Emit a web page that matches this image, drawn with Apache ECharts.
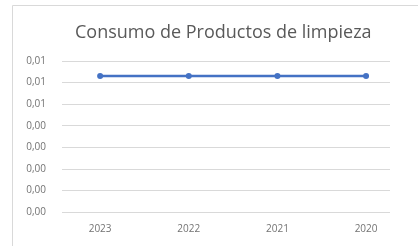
<!DOCTYPE html>
<html>
<head>
<meta charset="utf-8">
<script src="https://cdn.jsdelivr.net/npm/echarts@6/dist/echarts.min.js"></script>
<style>
html, body { margin: 0; padding: 0; background: #fff; }
#chart { width: 418px; height: 246px; }
</style>
</head>
<body>
<div id="chart"></div>
<script>
var years = ['2023', '2022', '2021', '2020'];
var consumo = [0.0063, 0.0063, 0.0063, 0.0063];
var yTicks = [0, 0.001, 0.002, 0.003, 0.004, 0.005, 0.006, 0.007];

var chart = echarts.init(document.getElementById('chart'));

function fmt2(v) {
	return (Math.round(v * 100 + 1e-9) / 100).toFixed(2).replace('.', ',');
}

var option = {
	animation : false,
	title : {
		text : 'Consumo de Productos de limpieza',
		left : 70,
		top : 19,
		textStyle : {
			color : '#595959',
			fontSize : 18,
			fontWeight : 'normal',
			fontFamily : 'Open Sans'
		}
	},
	graphic : [ {
		type : 'rect',
		shape : { x : 12.5, y : 5.5, width : 420, height : 260 },
		style : { fill : 'none', stroke : '#d9d9d9', lineWidth : 1 }
	} ],
	grid : {
		left : 62,
		right : 28,
		top : 61,
		bottom : 34
	},
	xAxis : {
		type : 'value',
		min : -0.43,
		max : 3.27,
		axisLine : { show : false },
		axisTick : { show : false },
		splitLine : { show : false },
		axisLabel : {
			customValues : [ 0, 1, 2, 3 ],
			margin : 12,
			color : '#737373',
			fontSize : 10,
			fontFamily : 'Open Sans',
			formatter : function(v) {
				return years[Math.round(v)];
			}
		}
	},
	yAxis : {
		type : 'value',
		min : yTicks[0],
		max : yTicks[yTicks.length - 1],
		interval : 0.001,
		axisLine : { show : false },
		axisTick : { show : false },
		splitLine : { lineStyle : { color : '#d9d9d9', width : 1 } },
		axisLabel : {
			margin : 16,
			color : '#737373',
			fontSize : 10,
			fontFamily : 'Open Sans',
			formatter : fmt2
		}
	},
	series : [ {
		type : 'line',
		data : consumo.map(function(v, i) {
			return [ i, v ];
		}),
		symbol : 'circle',
		symbolSize : 6,
		lineStyle : { color : '#4472C4', width : 2.5 },
		itemStyle : { color : '#4472C4' }
	} ]
};

chart.setOption(option);
</script>
</body>
</html>
